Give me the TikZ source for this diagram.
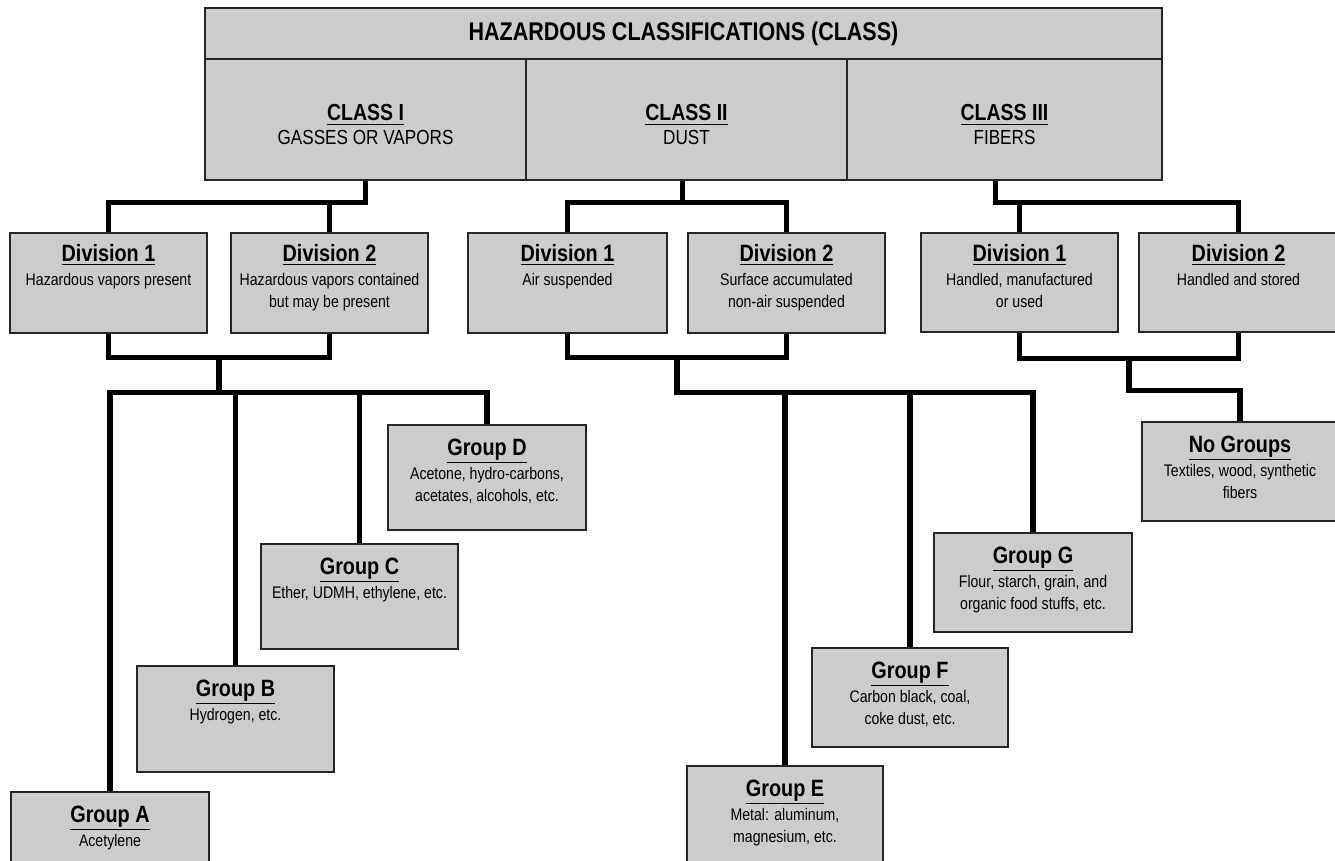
\documentclass[tikz,border=0pt]{standalone}
\usepackage{fontspec}
\setmainfont{Liberation Sans}[FakeStretch=0.84]
\usepackage{tikz}
\usetikzlibrary{positioning,fit,calc}
\newcommand{\boxhd}[2][11.8]{{\fontsize{#1}{11}\selectfont\bfseries\underline{#2}}}
\tikzset{
  cbox/.style = {rectangle, draw=black!85, fill=black!20, line width=0.7pt, inner sep=0pt},
  ttxt/.style = {align=center, inner sep=0pt, font=\fontsize{12.8}{14}\selectfont\bfseries},
  ctxt/.style = {align=center, inner sep=0pt, font=\fontsize{10.2}{12}\selectfont},
  btxt/.style = {align=center, inner sep=0pt, font=\fontsize{8.4}{11}\selectfont},
  ln/.style   = {line width=2.8pt, black},
}

\begin{document}
\begin{tikzpicture}[x=0.5pt,y=-0.5pt]
  \useasboundingbox (0,0) rectangle (1335,861);

  % header and classes
  \node[cbox, fit={(205,8)(1162,59)}] (hdr) {};
  \node[cbox, fit={(205,59)(526,180)}] (c1) {};
  \node[cbox, fit={(526,59)(847,180)}] (c2) {};
  \node[cbox, fit={(847,59)(1162,180)}] (c3) {};
  \node[ttxt] (ttl) at (hdr.center) {HAZARDOUS CLASSIFICATIONS (CLASS)};
  \node[ctxt, below=23pt of c1.north] (c1t) {\boxhd[11.6]{CLASS I}\\GASSES OR VAPORS};
  \node[ctxt, below=23pt of c2.north] (c2t) {\boxhd[11.6]{CLASS II}\\DUST};
  \node[ctxt, below=23pt of c3.north] (c3t) {\boxhd[11.6]{CLASS III}\\FIBERS};

  % divisions
  \node[cbox, fit={(10,233)(207,333)}] (d11) {};
  \node[cbox, fit={(231,233)(428,333)}] (d12) {};
  \node[cbox, fit={(468,233)(667,333)}] (d21) {};
  \node[cbox, fit={(688,233)(885,333)}] (d22) {};
  \node[cbox, fit={(921,233)(1118,332)}] (d31) {};
  \node[cbox, fit={(1139,233)(1338,332)}] (d32) {};
  \node[btxt, below=6pt of d11.north] (d11t) {\boxhd{Division 1}\\[1pt]Hazardous vapors present};
  \node[btxt, below=6pt of d12.north] (d12t) {\boxhd{Division 2}\\[1pt]Hazardous vapors contained\\but may be present};
  \node[btxt, below=6pt of d21.north] (d21t) {\boxhd{Division 1}\\[1pt]Air suspended};
  \node[btxt, below=6pt of d22.north] (d22t) {\boxhd{Division 2}\\[1pt]Surface accumulated\\non-air suspended};
  \node[btxt, below=6pt of d31.north] (d31t) {\boxhd{Division 1}\\[1pt]Handled, manufactured\\or used};
  \node[btxt, below=6pt of d32.north] (d32t) {\boxhd{Division 2}\\[1pt]Handled and stored};

  % groups
  \node[cbox, fit={(11,792)(209,900)}] (ga) {};
  \node[cbox, fit={(137,666)(334,772)}] (gb) {};
  \node[cbox, fit={(261,544)(458,649)}] (gc) {};
  \node[cbox, fit={(388,425)(586,530)}] (gd) {};
  \node[cbox, fit={(687,766)(883,900)}] (ge) {};
  \node[cbox, fit={(812,648)(1008,747)}] (gf) {};
  \node[cbox, fit={(934,533)(1132,632)}] (gg) {};
  \node[cbox, fit={(1142,422)(1338,521)}] (ng) {};
  \node[btxt, below=7pt of ga.north] (gat) {\boxhd{Group A}\\[1pt]Acetylene};
  \node[btxt, below=7pt of gb.north] (gbt) {\boxhd{Group B}\\[1pt]Hydrogen, etc.};
  \node[btxt, below=7pt of gc.north] (gct) {\boxhd{Group C}\\[1pt]Ether, UDMH, ethylene, etc.};
  \node[btxt, below=7pt of gd.north] (gdt) {\boxhd{Group D}\\[1pt]Acetone, hydro-carbons,\\acetates, alcohols, etc.};
  \node[btxt, below=7pt of ge.north] (get) {\boxhd{Group E}\\[1pt]Metal: aluminum,\\magnesium, etc.};
  \node[btxt, below=7pt of gf.north] (gft) {\boxhd{Group F}\\[1pt]Carbon black, coal,\\coke dust, etc.};
  \node[btxt, below=7pt of gg.north] (ggt) {\boxhd{Group G}\\[1pt]Flour, starch, grain, and\\organic food stuffs, etc.};
  \node[btxt, below=7pt of ng.north] (ngt) {\boxhd{No Groups}\\[1pt]Textiles, wood, synthetic\\fibers};

  % class I
  \draw[ln] (c1.south) -- ++(0,22) -| (d11.north);
  \draw[ln] (c1.south) ++(0,22) -| (d12.north);
  \draw[ln] (d11.south) -- ++(0,24) -| (d12.south);
  \coordinate (j1) at ($(d11.south)!.5!(d12.south)+(0,24)$);
  \draw[ln] (j1) -- ++(0,35) coordinate (k1);
  \draw[ln] (ga.north) |- (k1) -| (gd.north);
  \draw[ln] (gb.north) -- (gb.north |- k1);
  \draw[ln] (gc.north) -- (gc.north |- k1);

  % class II
  \draw[ln] ([xshift=-2pt]c2.south) -- ++(0,22) -| (d21.north);
  \draw[ln] ([xshift=-2pt]c2.south) ++(0,22) -| (d22.north);
  \draw[ln] (d21.south) -- ++(0,24) -| (d22.south);
  \coordinate (j2) at ($(d21.south)!.5!(d22.south)+(0,24)$);
  \draw[ln] (j2) -- ++(0,35) coordinate (k2) -| (gg.north);
  \draw[ln] (ge.north) -- (ge.north |- k2);
  \draw[ln] (gf.north) -- (gf.north |- k2);

  % class III
  \draw[ln] ([xshift=-4.5pt]c3.south) -- ++(0,22) coordinate (b3) -| (d32.north);
  \draw[ln] (d31.north) -- (d31.north |- b3);
  \draw[ln] (d31.south) -- ++(0,26) -| (d32.south);
  \coordinate (j3) at ($(d31.south)!.5!(d32.south)+(0,26)$);
  \draw[ln] (j3) -- ++(0,32) -| (ng.north);

\end{tikzpicture}
\end{document}
